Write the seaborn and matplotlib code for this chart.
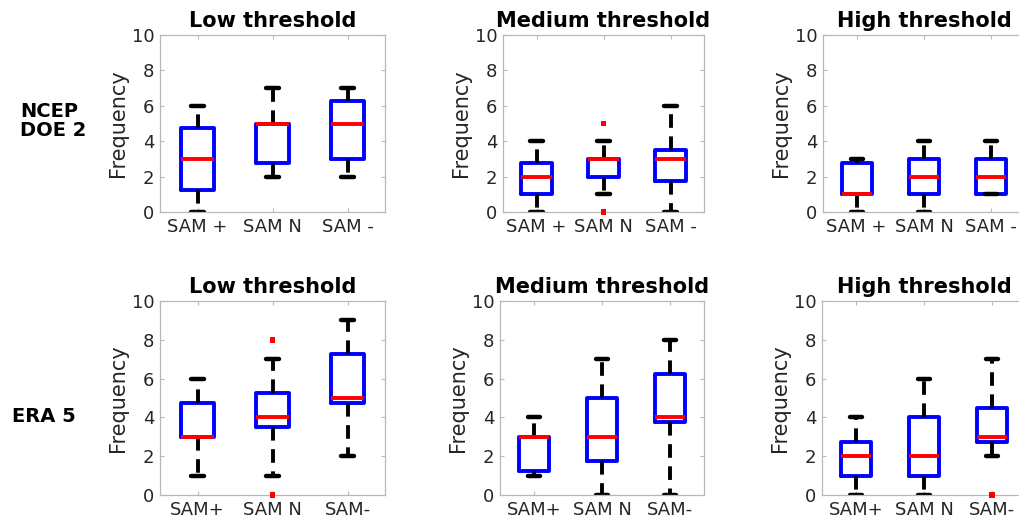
import numpy as np
import pandas as pd
import matplotlib
matplotlib.use("Agg")
import matplotlib.pyplot as plt
import seaborn as sns

# ---------------- data ----------------
thresholds = ["Low threshold", "Medium threshold", "High threshold"]
datasets = ["NCEP\nDOE 2", "ERA 5"]
groups_top = ["SAM +", "SAM N", "SAM -"]
groups_bottom = ["SAM+", "SAM N", "SAM-"]

# rows: Low, Medium, High threshold ; columns: SAM+, SAM N, SAM-
ncep_whislo = [[0, 2, 2], [0, 1, 0], [0, 0, 1]]
ncep_q1     = [[1.25, 2.75, 3], [1, 2, 1.75], [1, 1, 1]]
ncep_med    = [[3, 5, 5], [2, 3, 3], [1, 2, 2]]
ncep_q3     = [[4.75, 5, 6.25], [2.75, 3, 3.5], [2.75, 3, 3]]
ncep_whishi = [[6, 7, 7], [4, 4, 6], [3, 4, 4]]
ncep_fliers = [(1, 1, 5), (1, 1, 0)]          # (threshold, group, value)

era_whislo = [[1, 1, 2], [1, 0, 0], [0, 0, 2]]
era_q1     = [[3, 3.5, 4.75], [1.25, 1.75, 3.75], [1, 1, 2.75]]
era_med    = [[3, 4, 5], [3, 3, 4], [2, 2, 3]]
era_q3     = [[4.75, 5.25, 7.25], [3, 5, 6.25], [2.75, 4, 4.5]]
era_whishi = [[6, 7, 9], [4, 7, 8], [4, 6, 7]]
era_fliers = [(0, 1, 8), (0, 1, 0), (2, 2, 0)]

yticks = [0, 2, 4, 6, 8, 10]

# ---------------- style ----------------
sns.set_theme(style="white")
plt.rcParams["font.family"] = ["DejaVu Sans"]

W, H = 1019, 522
fig = plt.figure(figsize=(W / 100, H / 100), dpi=100)

# axes rectangles in pixels (left, top, right, bottom)
rects = [
    [(160, 35, 385, 212), (503, 35, 704, 212), (823, 35, 1025, 212)],
    [(160, 301, 385, 495), (500, 301, 704, 495), (822, 301, 1026, 495)],
]

BLUE = "#0000ff"
RED = "#ff0000"
SPINE = "#b8b8b8"
TXT = "#262626"
LW = 2.8

rows = [
    (ncep_whislo, ncep_q1, ncep_med, ncep_q3, ncep_whishi, ncep_fliers, groups_top),
    (era_whislo, era_q1, era_med, era_q3, era_whishi, era_fliers, groups_bottom),
]

for r, (wlo, q1, med, q3, whi, fl, groups) in enumerate(rows):
    for c, title in enumerate(thresholds):
        l, t, rr, b = rects[r][c]
        ax = fig.add_axes([l / W, 1 - b / H, (rr - l) / W, (b - t) / H])
        recs = []
        for g, name in enumerate(groups):
            for v in (wlo[c][g], q1[c][g], med[c][g], q3[c][g], whi[c][g]):
                recs.append({"group": name, "value": v})
        df = pd.DataFrame(recs)
        sns.boxplot(
            data=df, x="group", y="value", order=groups, ax=ax,
            whis=np.inf, width=0.45, fill=False, linewidth=LW,
            showfliers=False,
            boxprops=dict(color=BLUE, linewidth=LW),
            medianprops=dict(color=RED, linewidth=LW),
            whiskerprops=dict(color="black", linewidth=LW, linestyle=(0, (3.5, 2.2))),
            capprops=dict(color="black", linewidth=LW + 0.4),
            capwidths=0.18,
        )
        fx = [gi for (ti, gi, v) in fl if ti == c]
        fy = [v for (ti, gi, v) in fl if ti == c]
        if fx:
            sns.scatterplot(x=fx, y=fy, ax=ax, color=RED, s=16, marker="s",
                            edgecolor="none", legend=False, zorder=5,
                            clip_on=False)
        ax.set_xlim(-0.5, 2.5)
        ax.set_ylim(0, 10)
        ax.set_yticks(yticks)
        ax.set_xticks(range(len(groups)))
        ax.set_xticklabels(groups)
        ax.set_xlabel("")
        ax.set_ylabel("Frequency", fontsize=15, color=TXT, labelpad=3)
        ax.set_title(title, fontsize=15, fontweight="bold", color="black", pad=6)
        for s in ax.spines.values():
            s.set_color(SPINE)
            s.set_linewidth(0.9)
            s.set_visible(True)
        ax.tick_params(axis="both", direction="in", length=3, width=0.8,
                       color=SPINE, labelcolor=TXT, labelsize=13,
                       top=True, right=True, bottom=True, left=True, pad=4)
        ax.set_facecolor("white")

fig.text(20 / W, 1 - 121 / H, datasets[0], fontsize=14, fontweight="bold",
         color="black", ha="left", va="center", linespacing=0.95)
fig.text(12 / W, 1 - 416 / H, datasets[1], fontsize=14, fontweight="bold",
         color="black", ha="left", va="center")

fig.savefig("out.png", dpi=100, facecolor="white")
